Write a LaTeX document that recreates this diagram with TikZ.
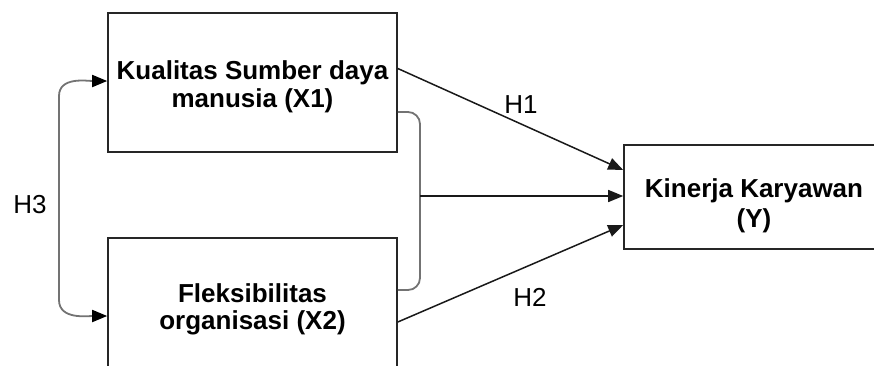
\documentclass[tikz,border=0pt]{standalone}
\usepackage{fontspec}
\setmainfont{Liberation Sans}
\usetikzlibrary{arrows.meta}
\begin{document}
\begin{tikzpicture}[x=1pt,y=-1pt,
  box/.style={draw=black!85, line width=1.6pt, fill=white, inner sep=0pt},
  txt/.style={align=center, inner sep=0pt, font=\fontsize{26}{28}\selectfont\bfseries},
  lab/.style={font=\fontsize{26}{28}\selectfont, inner sep=0pt},
  arr/.style={line width=1.5pt, black!90, -{Triangle[length=15pt,width=12pt]}},
  grayline/.style={line width=1.8pt, black!55},
  tip/.style={-{Triangle[length=15pt,width=12pt,black]}}
]
\useasboundingbox (0,0) rectangle (874,365);
\clip (0,0) rectangle (874,365);
\node[box, minimum width=289pt, minimum height=139pt] (b1) at (252.5,82.5) {};
\node[box, minimum width=289pt, minimum height=140pt] (b2) at (252.5,308) {};
\node[box, minimum width=260pt, minimum height=104pt] (y) at (754,197) {};
\node[txt] (t1) at ([yshift=-4.5pt]b1.center) {Kualitas Sumber daya\\manusia (X1)};
\node[txt, font=\fontsize{26}{27}\selectfont\bfseries] (t2) at ([yshift=-1pt]b2.center) {Fleksibilitas\\organisasi (X2)};
\node[txt, font=\fontsize{26}{30}\selectfont\bfseries] (t3) at ([yshift=-9pt]y.center) {Kinerja Karyawan\\(Y)};
% bracket joining both boxes
\coordinate (bt) at (420,112);
\coordinate (bb) at (420,290);
\coordinate (bm) at (420,196);
\draw[grayline, rounded corners=12pt] ([yshift=-29.5pt]b1.east) -- (bt) -- (bb) -- ([yshift=18pt]b2.east);
\draw[arr] (bm) -- ([yshift=1pt]y.west);
% H1, H2
\draw[arr] ([yshift=14pt]b1.east) -- ([yshift=27pt]y.west);
\draw[arr] ([yshift=-14pt]b2.east) -- ([yshift=-28pt]y.west);
% H3
\coordinate (h3t) at (59,96);
\coordinate (h3b) at (59,300);
\draw[grayline] (h3t) -- (h3b);
\draw[grayline, tip] (h3t) to[out=90,in=180] ([yshift=1.5pt]b1.west);
\draw[grayline, tip] (h3b) to[out=-90,in=180] ([yshift=-8pt]b2.west);
\node[lab] (l1) at (521,105) {H1};
\node[lab] (l2) at (530,297) {H2};
\node[lab] (l3) at (30,205) {H3};
\end{tikzpicture}
\end{document}
